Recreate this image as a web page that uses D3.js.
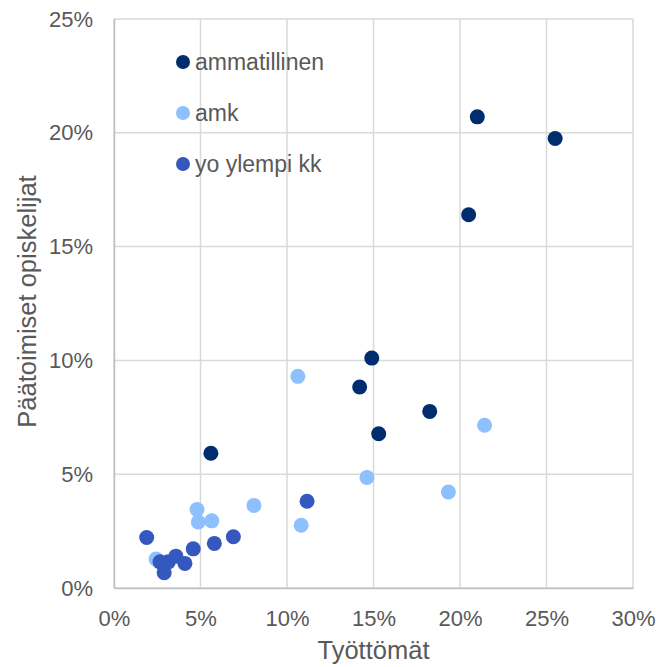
<!DOCTYPE html>
<html>
<head>
<meta charset="utf-8">
<script src="https://cdn.jsdelivr.net/npm/d3@7"></script>
<style>
  body { margin: 0; background: #fff; }
  svg text { font-family: "Liberation Sans", Arial, sans-serif; fill: #595959; }
</style>
</head>
<body>
<svg id="chart"></svg>
<script>
// data (percent values)
var seriesNames = ["ammatillinen", "amk", "yo ylempi kk"];
var seriesColors = ["#002d6e", "#8ebfff", "#3558be"];

var ammatillinenX = [21.0, 25.5, 20.5, 14.9, 14.2, 18.25, 15.3, 5.6];
var ammatillinenY = [20.7, 19.75, 16.4, 10.1, 8.83, 7.76, 6.78, 5.92];

var amkX = [10.63, 21.42, 14.62, 19.33, 8.09, 10.82, 4.8, 4.87, 5.65, 2.43];
var amkY = [9.3, 7.15, 4.86, 4.22, 3.63, 2.76, 3.45, 2.9, 2.95, 1.27];

var yoX = [11.16, 1.89, 6.9, 5.8, 4.58, 3.58, 4.1, 2.66, 3.14, 2.9];
var yoY = [3.81, 2.22, 2.25, 1.96, 1.72, 1.4, 1.08, 1.15, 1.15, 0.67];

var xTicks = [0, 5, 10, 15, 20, 25, 30];
var yTicks = [0, 5, 10, 15, 20, 25];

// set the dimensions and margins of the graph
var margin = {top: 19, right: 23, bottom: 79, left: 114},
    width = 656 - margin.left - margin.right,
    height = 667 - margin.top - margin.bottom;

var svg = d3.select("#chart")
    .attr("width", 656)
    .attr("height", 667)
  .append("g")
    .attr("transform", "translate(" + margin.left + "," + margin.top + ")");

var x = d3.scaleLinear().domain([0, 30]).range([0, width]);
var y = d3.scaleLinear().domain([0, 25]).range([height, 0]);

// gridlines
svg.append("g")
  .selectAll("line")
  .data(xTicks)
  .enter().append("line")
    .attr("x1", function(d) { return x(d); })
    .attr("x2", function(d) { return x(d); })
    .attr("y1", 0)
    .attr("y2", height)
    .attr("stroke", "#d9d9d9")
    .attr("stroke-width", 1.5);

svg.append("g")
  .selectAll("line")
  .data(yTicks)
  .enter().append("line")
    .attr("x1", 0)
    .attr("x2", width)
    .attr("y1", function(d) { return y(d); })
    .attr("y2", function(d) { return y(d); })
    .attr("stroke", "#d9d9d9")
    .attr("stroke-width", 1.5);

// axes
var xAxis = svg.append("g")
  .attr("transform", "translate(0," + height + ")")
  .call(d3.axisBottom(x).tickValues(xTicks).tickSize(0).tickPadding(22)
    .tickFormat(function(d) { return d + "%"; }));
xAxis.select(".domain").attr("stroke", "#bfbfbf").attr("stroke-width", 1.5);
xAxis.selectAll("text").attr("font-size", "22px").attr("fill", "#595959");

var yAxis = svg.append("g")
  .call(d3.axisLeft(y).tickValues(yTicks).tickSize(0).tickPadding(21)
    .tickFormat(function(d) { return d + "%"; }));
yAxis.select(".domain").attr("stroke", "#bfbfbf").attr("stroke-width", 1.5);
yAxis.selectAll("text").attr("font-size", "22px").attr("fill", "#595959");

// axis titles
svg.append("text")
  .attr("text-anchor", "middle")
  .attr("x", width / 2)
  .attr("y", height + 71)
  .attr("font-size", "25.5px")
  .text("Työttömät");

svg.append("text")
  .attr("text-anchor", "middle")
  .attr("transform", "translate(" + (-78) + "," + (height / 2 - 2) + ") rotate(-90)")
  .attr("font-size", "25.5px")
  .text("Päätoimiset opiskelijat");

// points
var series = [
  {name: seriesNames[0], xs: ammatillinenX, ys: ammatillinenY, color: seriesColors[0]},
  {name: seriesNames[1], xs: amkX, ys: amkY, color: seriesColors[1]},
  {name: seriesNames[2], xs: yoX, ys: yoY, color: seriesColors[2]}
];

series.forEach(function(s) {
  svg.append("g")
    .selectAll("circle")
    .data(s.xs.map(function(v, i) { return [v, s.ys[i]]; }))
    .enter().append("circle")
      .attr("cx", function(d) { return x(d[0]); })
      .attr("cy", function(d) { return y(d[1]); })
      .attr("r", 7.5)
      .attr("fill", s.color);
});

// legend
var legend = svg.append("g")
  .attr("transform", "translate(" + (183 - margin.left) + "," + (62 - margin.top) + ")");

var items = legend.selectAll("g")
  .data(series)
  .enter().append("g")
    .attr("transform", function(d, i) { return "translate(0," + (i * 51) + ")"; });

items.append("circle")
  .attr("r", 7)
  .attr("fill", function(d) { return d.color; });

items.append("text")
  .attr("x", 12)
  .attr("dy", "0.35em")
  .attr("font-size", "23px")
  .text(function(d) { return d.name; });
</script>
</body>
</html>
